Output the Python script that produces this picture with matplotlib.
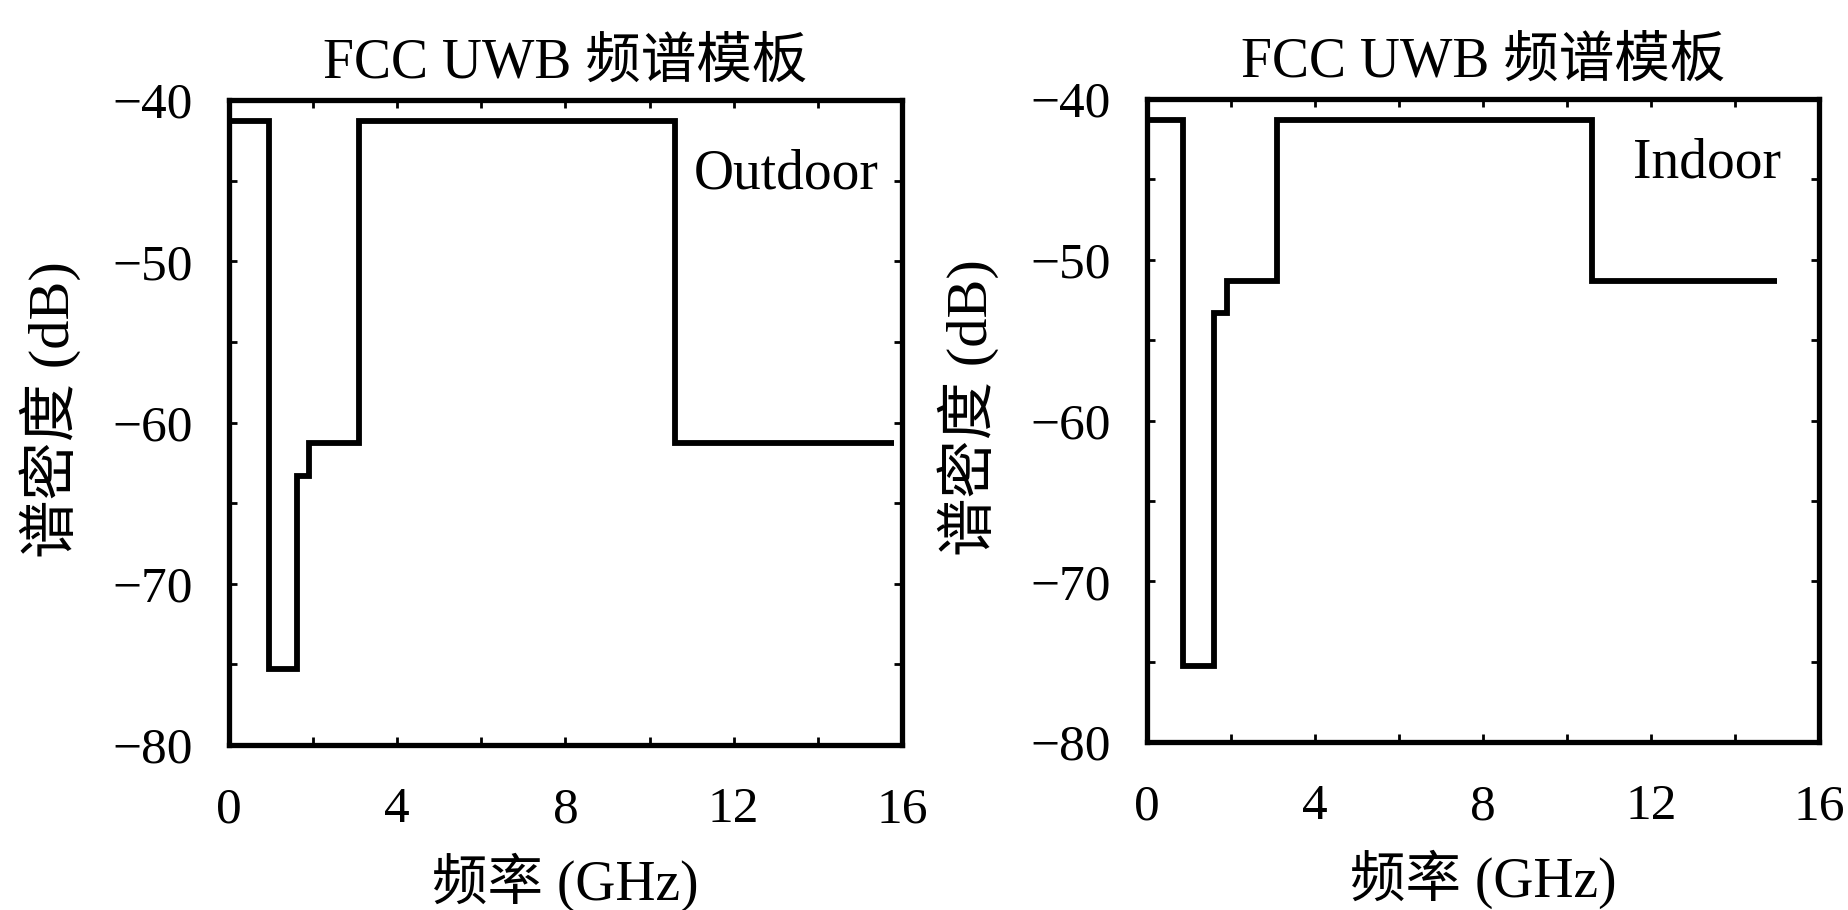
import matplotlib
matplotlib.use("Agg")
import matplotlib.pyplot as plt
from matplotlib.ticker import MultipleLocator

plt.rcParams['font.family'] = ['Liberation Serif', 'Noto Sans CJK SC']
plt.rcParams['axes.unicode_minus'] = True

title_text = "FCC UWB 频谱模板"
xlabel_text = "频率 (GHz)"
ylabel_text = "谱密度 (dB)"

outdoor_edges = [0, 0.96, 1.61, 1.9, 3.1, 10.6, 15.8]
outdoor_levels = [-41.3, -75.3, -63.3, -61.3, -41.3, -61.3]
indoor_edges = [0, 0.86, 1.6, 1.9, 3.1, 10.6, 15.0]
indoor_levels = [-41.3, -75.3, -53.3, -51.3, -41.3, -51.3]

xticks = [0, 4, 8, 12, 16]
yticks = [-80, -70, -60, -50, -40]

fig = plt.figure(figsize=(18.49, 9.10), dpi=100)
ax1 = fig.add_axes([0.1238, 0.1813, 0.364, 0.7088])
ax2 = fig.add_axes([0.6203, 0.1846, 0.3634, 0.7066])

panels = [
    (ax1, outdoor_edges, outdoor_levels, "Outdoor", 15.45, -44.6),
    (ax2, indoor_edges, indoor_levels, "Indoor", 15.1, -44.0),
]

tick_fs = 37
for ax, edges, levels, label, lx, ly in panels:
    ax.stairs(levels, edges, baseline=None, color='black', linewidth=4.2)
    ax.set_xlim(0, 16)
    ax.set_ylim(-80, -40)
    ax.set_xticks(xticks)
    ax.set_yticks(yticks)
    ax.xaxis.set_minor_locator(MultipleLocator(2))
    ax.yaxis.set_minor_locator(MultipleLocator(5))
    ax.set_xticklabels([str(t) for t in xticks], fontsize=tick_fs)
    ax.set_yticklabels(["\u2212%d" % abs(t) for t in yticks], fontsize=tick_fs)
    ax.tick_params(axis='both', which='both', direction='in', top=True, right=True,
                   length=6, width=2)
    ax.tick_params(axis='x', which='major', pad=30)
    ax.tick_params(axis='y', which='major', pad=26)
    for sp in ax.spines.values():
        sp.set_linewidth(3.8)
    ax.set_title(title_text, fontsize=40, pad=16)
    ax.set_xlabel(xlabel_text, fontsize=40, labelpad=14)
    ax.set_ylabel(ylabel_text, fontsize=42, labelpad=14)
    ax.text(lx, ly, label, fontsize=40, ha='right', va='center')

ax1.yaxis.set_label_coords(-0.22, 0.52)
ax2.yaxis.set_label_coords(-0.22, 0.52)

fig.savefig("out.png", dpi=100, facecolor='white')
